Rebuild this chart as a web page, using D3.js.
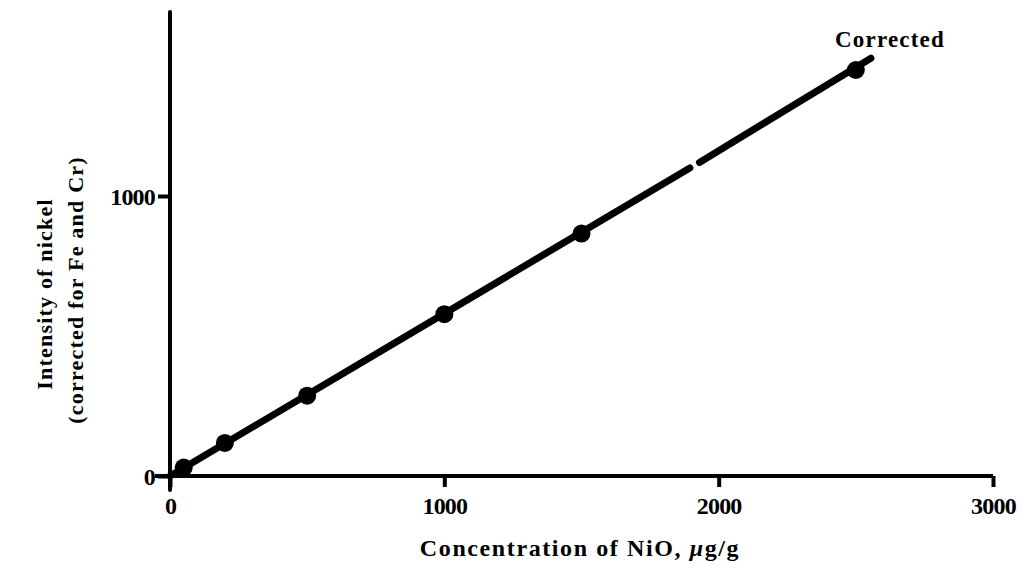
<!DOCTYPE html>
<html>
<meta charset="utf-8">
<style>
body { margin: 0; background: #fff; }
svg text { font-family: "Liberation Serif", "DejaVu Serif", serif; fill: #000; }
.tick text { font-weight: bold; font-size: 24px; letter-spacing: -0.8px; }
.title { font-size: 22px; font-weight: bold; letter-spacing: 1.2px; }
</style>
<body>
<svg width="1028" height="575"></svg>
<script src="https://cdn.jsdelivr.net/npm/d3@7"></script>
<script>

// measured points (NiO ug/g vs corrected Ni intensity)
var concentration = [50, 200, 500, 1000, 1500, 2500];
var intensity = [30, 118, 287, 578, 866, 1450];

// fitted line, drawn in two pieces (the print has a small break near 1900)
var fitA = [[0, 0], [1895, 1100]];
var fitB = [[1930, 1120], [2555, 1492]];

var xTicks = [0, 1000, 2000, 3000];
var yTicks = [0, 1000];

var svg = d3.select("svg");

var x = d3.scaleLinear().domain([0, 3000]).range([170, 993]);
var y = d3.scaleLinear().domain([0, 1000]).range([476, 196]);

var line = d3.line()
    .x(function(d) { return x(d[0]); })
    .y(function(d) { return y(d[1]); });

// axes
var xAxis = svg.append("g")
    .attr("transform", "translate(0," + y(0) + ")")
    .call(d3.axisBottom(x).tickValues(xTicks).tickFormat(d3.format("d"))
      .tickSize(11).tickSizeOuter(0).tickPadding(10));
xAxis.select(".domain").remove();
xAxis.append("line")
    .attr("x1", x(0) - 15).attr("x2", x(3000))
    .attr("stroke", "#000").attr("stroke-width", 4);
xAxis.selectAll(".tick line").attr("stroke-width", 4);

var yAxis = svg.append("g")
    .attr("transform", "translate(" + x(0) + ",0)")
    .call(d3.axisLeft(y).tickValues(yTicks).tickFormat(d3.format("d"))
      .tickSize(12).tickSizeOuter(0).tickPadding(3));
yAxis.select(".domain").remove();
yAxis.append("line")
    .attr("y1", 12).attr("y2", y(0) + 14)
    .attr("stroke", "#000").attr("stroke-width", 4).attr("stroke-linecap", "round");
yAxis.selectAll(".tick line").attr("stroke-width", 4);
yAxis.selectAll(".tick text").attr("dy", "0.35em");

// fitted line
[fitA, fitB].forEach(function(seg) {
  svg.append("path")
      .datum(seg)
      .attr("d", line)
      .attr("fill", "none")
      .attr("stroke", "#000")
      .attr("stroke-width", 7)
      .attr("stroke-linecap", "round");
});

// points
svg.append("g")
  .selectAll("circle")
  .data(concentration)
  .enter().append("circle")
    .attr("cx", function(d) { return x(d); })
    .attr("cy", function(d, i) { return y(intensity[i]); })
    .attr("r", 9)
    .attr("fill", "#000");

svg.append("text")
    .attr("class", "title")
    .attr("x", 890).attr("y", 47)
    .attr("text-anchor", "middle")
    .style("font-size", "23px")
    .text("Corrected");

svg.append("text")
    .attr("class", "title")
    .attr("x", 580).attr("y", 556)
    .attr("text-anchor", "middle")
    .style("font-size", "24px")
    .style("letter-spacing", "1.6px")
    .html("Concentration of NiO, <tspan font-style='italic'>\u03bc</tspan>g/g");

svg.append("text")
    .attr("class", "title")
    .attr("transform", "translate(52,294) rotate(-90)")
    .attr("text-anchor", "middle")
    .text("Intensity of nickel");

svg.append("text")
    .attr("class", "title")
    .attr("transform", "translate(83,290) rotate(-90)")
    .attr("text-anchor", "middle")
    .text("(corrected for Fe and Cr)");

</script>
</body>
</html>
